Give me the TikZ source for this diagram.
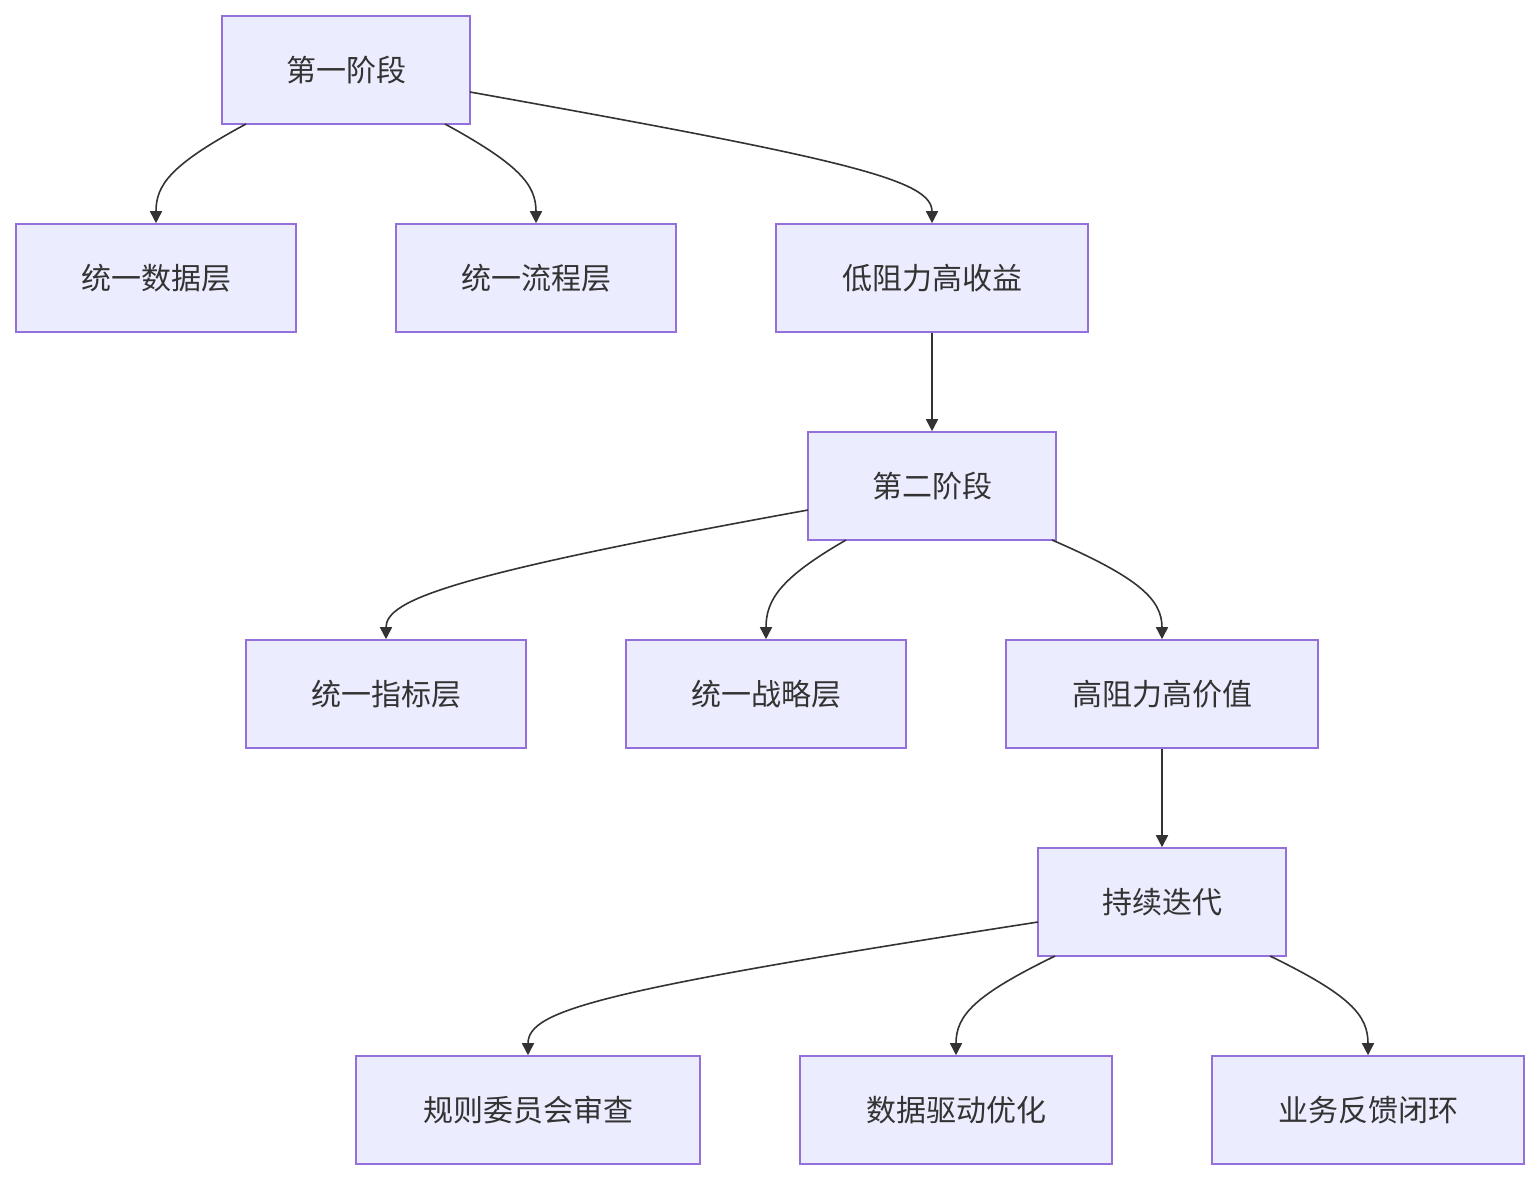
\documentclass[tikz,border=0pt]{standalone}
\usepackage{fontspec}
\setmainfont{Noto Sans CJK SC}
\usetikzlibrary{arrows.meta}
\definecolor{boxfill}{HTML}{ECECFF}
\definecolor{boxline}{HTML}{9370DB}
\definecolor{edge}{HTML}{333333}
\begin{document}
\begin{tikzpicture}[x=0.5pt,y=-0.5pt,
  box/.style={draw=boxline,fill=boxfill,line width=0.8pt,minimum height=54pt,inner sep=0pt,font=\fontsize{15}{18}\selectfont,text=edge},
  conn/.style={draw=edge,line width=0.8pt,-{Triangle[length=6pt,width=6pt]}}]
\useasboundingbox (0,0) rectangle (1540,1180);
\node[box,minimum width=124pt] (A) at (346,70) {第一阶段};
\node[box,minimum width=140pt] (B1) at (156,278) {统一数据层};
\node[box,minimum width=140pt] (B2) at (536,278) {统一流程层};
\node[box,minimum width=156pt] (B3) at (932,278) {低阻力高收益};
\node[box,minimum width=124pt] (C) at (932,486) {第二阶段};
\node[box,minimum width=140pt] (D1) at (386,694) {统一指标层};
\node[box,minimum width=140pt] (D2) at (766,694) {统一战略层};
\node[box,minimum width=156pt] (D3) at (1162,694) {高阻力高价值};
\node[box,minimum width=124pt] (E) at (1162,902) {持续迭代};
\node[box,minimum width=172pt] (F1) at (528,1110) {规则委员会审查};
\node[box,minimum width=156pt] (F2) at (956,1110) {数据驱动优化};
\node[box,minimum width=156pt] (F3) at (1368,1110) {业务反馈闭环};
\draw[conn] (246,124) .. controls (170,165) and (156,185) .. (B1.north);
\draw[conn] (445,124) .. controls (520,165) and (536,185) .. (B2.north);
\draw[conn] (470,92) .. controls (850,160) and (932,180) .. (B3.north);
\draw[conn] (B3.south) -- (C.north);
\draw[conn] (808,510) .. controls (450,575) and (386,600) .. (D1.north);
\draw[conn] (846,540) .. controls (780,578) and (766,600) .. (D2.north);
\draw[conn] (1052,540) .. controls (1140,578) and (1162,600) .. (D3.north);
\draw[conn] (D3.south) -- (E.north);
\draw[conn] (1038,922) .. controls (600,990) and (528,1010) .. (F1.north);
\draw[conn] (1055,956) .. controls (975,995) and (956,1015) .. (F2.north);
\draw[conn] (1270,956) .. controls (1350,995) and (1368,1015) .. (F3.north);
\end{tikzpicture}
\end{document}
